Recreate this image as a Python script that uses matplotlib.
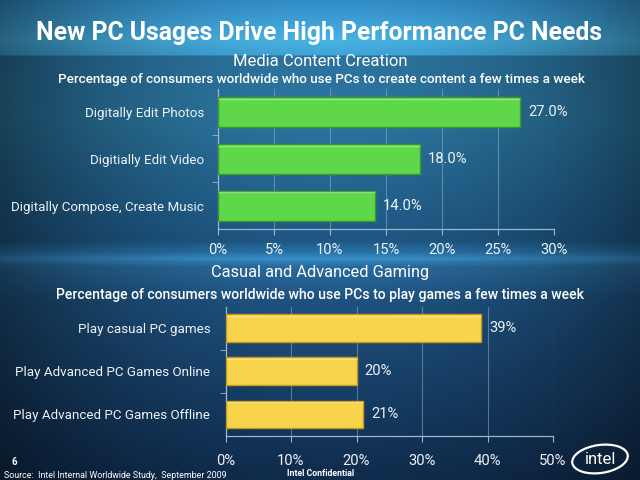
import numpy as np
import matplotlib
matplotlib.use("Agg")
import matplotlib.pyplot as plt
from matplotlib.patches import Ellipse

# ---------------- data ----------------
media_categories = ["Digitally Edit Photos", "Digitially Edit Video", "Digitally Compose, Create Music"]
media_values = [27.0, 18.0, 14.0]
media_ticks = [0, 5, 10, 15, 20, 25, 30]

gaming_categories = ["Play casual PC games", "Play Advanced PC Games Online", "Play Advanced PC Games Offline"]
gaming_values = [39, 20, 21]
gaming_ticks = [0, 10, 20, 30, 40, 50]

title = "New PC Usages Drive High Performance PC Needs"
media_title = "Media Content Creation"
media_sub = "Percentage of consumers worldwide who use PCs to create content a few times a week"
gaming_title = "Casual and Advanced Gaming"
gaming_sub = "Percentage of consumers worldwide who use PCs to play games a few times a week"
source = "Source:  Intel Internal Worldwide Study,  September 2009"

plt.rcParams["font.family"] = ["Roboto", "DejaVu Sans"]

W, H = 640, 480
fig = plt.figure(figsize=(6.4, 4.8), dpi=100)
renderer = fig.canvas.get_renderer()

# ---------------- background ----------------
ys = np.arange(H)
keys_y = [0, 40, 54, 56, 120, 240, 252, 258, 266, 300, 479]
keys_c = [(0.20, 0.55, 0.78), (0.28, 0.70, 0.89), (0.25, 0.64, 0.84), (0.17, 0.45, 0.62),
          (0.17, 0.46, 0.62), (0.12, 0.34, 0.52), (0.16, 0.45, 0.66), (0.22, 0.56, 0.78),
          (0.16, 0.42, 0.62), (0.12, 0.32, 0.50), (0.06, 0.17, 0.30)]
keys_c = np.array(keys_c)
col = np.stack([np.interp(ys, keys_y, keys_c[:, k]) for k in range(3)], axis=1)
xs = np.arange(W)
fac = 1 - 0.45 * ((xs - 330) / 330.0) ** 2
img = col[:, None, :] * fac[None, :, None]
bg = fig.add_axes([0, 0, 1, 1])
bg.imshow(np.clip(img, 0, 1), aspect="auto", extent=[0, W, H, 0], interpolation="bilinear")
bg.set_xlim(0, W)
bg.set_ylim(H, 0)
bg.axis("off")
bg.set_zorder(-1)


def fx(px):
    return px / W


def fy(py):
    return 1 - py / H


def fit(t, width):
    for _ in range(3):
        w = t.get_window_extent(renderer).width
        t.set_fontsize(t.get_fontsize() * width / w)
    return t.get_fontsize()


def fit_size(text, width, weight="normal"):
    t = fig.text(0, 0, text, fontsize=10, fontweight=weight)
    s = fit(t, width)
    t.remove()
    return s


TXT = "#eef3f7"
LINE = "#9fb6c8"

cat_size = fit_size("Digitally Edit Photos", 119)
tick_size = fit_size("30%", 27)


def bar_panel(rect, cats, vals, ticks, color, edge, fmt, pad_lbl, pad_cat):
    ax = fig.add_axes(rect)
    ax.patch.set_alpha(0)
    y = np.arange(len(cats))
    bars = ax.barh(y, vals, height=0.64, color=color, edgecolor=edge, linewidth=1.0, zorder=3)
    ax.set_xlim(ticks[0], ticks[-1])
    ax.set_ylim(len(cats) - 0.5, -0.5)
    ax.set_xticks(ticks)
    ax.set_xticklabels([f"{t}%" for t in ticks], color=TXT, fontsize=tick_size)
    ax.set_yticks(y)
    ax.set_yticklabels(cats, color=TXT, fontsize=cat_size)
    ax.set_yticks(np.arange(len(cats) - 1) + 0.5, minor=True)
    ax.tick_params(axis="y", which="major", length=0, pad=pad_cat)
    ax.tick_params(axis="y", which="minor", length=4, color=LINE, direction="out")
    ax.tick_params(axis="x", length=4, color=LINE, pad=pad_lbl, direction="out")
    ax.grid(axis="x", color=LINE, alpha=0.5, linewidth=0.8, zorder=0)
    for s in ["top", "right"]:
        ax.spines[s].set_visible(False)
    for s in ["left", "bottom"]:
        ax.spines[s].set_color(LINE)
        ax.spines[s].set_linewidth(0.9)
    for b, v in zip(bars, vals):
        ax.text(v + (ticks[-1] - ticks[0]) * 0.025, b.get_y() + b.get_height() / 2, fmt(v),
                color=TXT, fontsize=tick_size, va="center", ha="left")
        ax.plot([0, v], [b.get_y() + 0.04, b.get_y() + 0.04], color="white", alpha=0.35,
                linewidth=1.0, zorder=4, solid_capstyle="butt")
    return ax


bar_panel([fx(218), fy(229), fx(554) - fx(218), fy(88.5) - fy(229)],
          media_categories, media_values, media_ticks, "#5ed848", "#3a9a2a",
          lambda v: f"{v:.1f}%", 6, 10)
bar_panel([fx(225.5), fy(436), fx(553) - fx(225.5), fy(306.5) - fy(436)],
          gaming_categories, gaming_values, gaming_ticks, "#f8d44c", "#c79a1c",
          lambda v: f"{v:.0f}%", 9, 11)

# ---------------- texts ----------------
t = fig.text(fx(319), fy(33), title, ha="center", va="center", color="white", fontsize=20, fontweight="bold")
fit(t, 564)
t = fig.text(fx(320), fy(62), media_title, ha="center", va="center", color="white", fontsize=13)
fit(t, 175)
t = fig.text(fx(321), fy(80), media_sub, ha="center", va="center", color="white", fontsize=10, fontweight="medium")
fit(t, 528)
t = fig.text(fx(320), fy(273), gaming_title, ha="center", va="center", color="white", fontsize=13)
fit(t, 219)
t = fig.text(fx(320), fy(295), gaming_sub, ha="center", va="center", color="white", fontsize=10, fontweight="medium")
fit(t, 526)
fig.text(fx(11), fy(462), "6", ha="left", va="center", color="white", fontsize=7, fontweight="bold")
t = fig.text(fx(4), fy(475), source, ha="left", va="center", color="white", fontsize=6)
fit(t, 223)
t = fig.text(fx(321), fy(473), "Intel Confidential", ha="center", va="center", color="white", fontsize=6,
             fontweight="bold")
fit(t, 67)

# intel logo
bg.add_patch(Ellipse((600, 459), 56, 28, angle=-8, fill=False, edgecolor="white", linewidth=1.6))
bg.text(601, 459, "intel", ha="center", va="center", color="white", fontsize=12)

fig.savefig("out.png", dpi=100)
